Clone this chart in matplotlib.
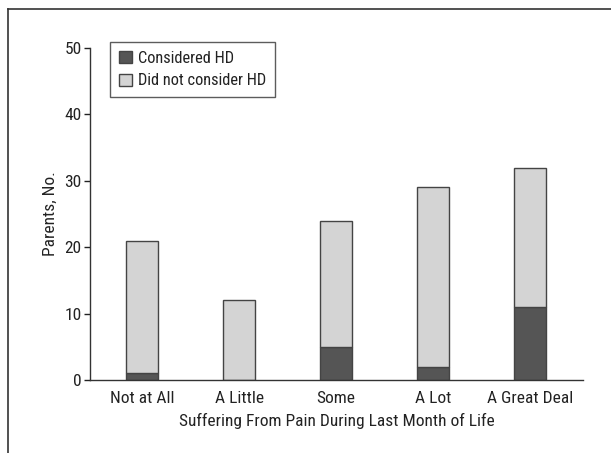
import matplotlib
matplotlib.use("Agg")
import matplotlib.pyplot as plt
from matplotlib.lines import Line2D
import numpy as np

plt.rcParams['font.family'] = ['Roboto Condensed', 'Archivo Narrow', 'DejaVu Sans']

categories = ['Not at All', 'A Little', 'Some', 'A Lot', 'A Great Deal']
considered = [1, 0, 5, 2, 11]
not_considered = [20, 12, 19, 27, 21]

dark = '#555555'
light = '#d4d4d4'
edge = '#444444'

fig = plt.figure(figsize=(6.11, 4.53), dpi=100)
ax = fig.add_axes([90/611, 1-380/453, (583-90)/611, (380-48)/453])

x = np.arange(len(categories))
w = 0.33
ax.bar(x, considered, w, color=dark, edgecolor=edge, linewidth=1, label='Considered HD')
ax.bar(x, not_considered, w, bottom=considered, color=light, edgecolor=edge, linewidth=1,
       label='Did not consider HD')

ax.set_xlim(-0.54, 4.55)
ax.set_ylim(0, 50)
ax.set_yticks(range(0, 51, 10))
ax.set_xticks(x)
ax.set_xticklabels(categories)
ax.tick_params(axis='x', length=0, labelsize=12.5, pad=8, colors='#222222')
ax.tick_params(axis='y', length=4, width=1, labelsize=12.5, pad=2, colors='#222222', direction='out')
for s in ['top', 'right']:
    ax.spines[s].set_visible(False)
for s in ['left', 'bottom']:
    ax.spines[s].set_color('#333333')
    ax.spines[s].set_linewidth(1)

ax.set_xlabel('Suffering From Pain During Last Month of Life', fontsize=12.5, color='#222222', labelpad=5)
ax.set_ylabel('Parents, No.', fontsize=12.5, color='#222222', labelpad=5)

leg = ax.legend(loc='upper left', bbox_to_anchor=(0.041, 1.018), borderaxespad=0, fontsize=11.8,
                frameon=True, fancybox=False, edgecolor='#333333', handlelength=0.75, handleheight=0.75,
                handletextpad=0.4, borderpad=0.55, labelspacing=0.45)
leg.get_frame().set_linewidth(1)
for t in leg.get_texts():
    t.set_color('#222222')

# outer frame lines (top and left only)
fig.add_artist(Line2D([8/611, 1], [1-9/453, 1-9/453], color='#333333', linewidth=1.2, transform=fig.transFigure))
fig.add_artist(Line2D([8/611, 8/611], [0, 1-9/453], color='#333333', linewidth=1.2, transform=fig.transFigure))

fig.savefig('out.png', dpi=100)
